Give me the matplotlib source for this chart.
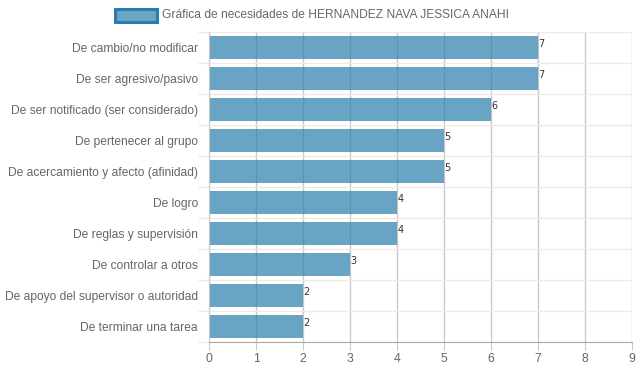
import matplotlib
matplotlib.use("Agg")
import matplotlib.pyplot as plt
from matplotlib.patches import Rectangle

categories = [
    "De cambio/no modificar",
    "De ser agresivo/pasivo",
    "De ser notificado (ser considerado)",
    "De pertenecer al grupo",
    "De acercamiento y afecto (afinidad)",
    "De logro",
    "De reglas y supervisión",
    "De controlar a otros",
    "De apoyo del supervisor o autoridad",
    "De terminar una tarea",
]
values = [7, 7, 6, 5, 5, 4, 4, 3, 2, 2]
series_label = "Gráfica de necesidades de HERNANDEZ NAVA JESSICA ANAHI"
xticks = list(range(0, 10))

plt.rcParams['font.family'] = ['Liberation Sans', 'DejaVu Sans']

W, H = 639, 372
fig = plt.figure(figsize=(W / 100, H / 100), dpi=100)
left, right, top, bottom = 209, 632, 32, 342
ax = fig.add_axes([left / W, 1 - bottom / H, (right - left) / W, (bottom - top) / H])

base = (42 / 255, 126 / 255, 171 / 255)
ypos = list(range(len(categories)))
ax.barh(ypos, values, height=0.72, color=base, alpha=0.7, zorder=2, linewidth=0)

ax.set_xlim(0, 9)
ax.set_ylim(len(categories) - 0.5, -0.5)
ax.set_xticks(xticks)
ax.set_yticks(ypos)
ax.set_yticklabels(categories)
ax.set_yticks([i + 0.5 for i in range(-1, len(categories))], minor=True)

ax.grid(axis='x', color='#c8c8c8', linewidth=1, zorder=1)
ax.grid(axis='y', which='minor', color='#ebebeb', linewidth=1, zorder=1)
ax.tick_params(axis='y', which='major', length=0, pad=8, labelsize=8.65, labelcolor='#666666')
ax.tick_params(axis='y', which='minor', length=8, color='#ebebeb', width=1)
ax.tick_params(axis='x', length=6, color='#c8c8c8', pad=2, labelsize=8.7, labelcolor='#666666')

for s in ['top', 'right']:
    ax.spines[s].set_visible(False)
ax.spines['left'].set_color('#c8c8c8')
ax.spines['bottom'].set_color('#aaaaaa')

for y, v in zip(ypos, values):
    ax.text(v + 0.01, y - 0.12, str(v), va='center', ha='left', fontsize=7,
            color='#333333', family=['DejaVu Sans'], zorder=3)

# legend
fig.patches.append(Rectangle((115 / W, 1 - 22 / H), 42 / W, 13 / H, transform=fig.transFigure,
                             facecolor=(106/255, 165/255, 196/255), edgecolor=base, linewidth=2.2))
fig.text(162 / W, 1 - 15 / H, series_label, ha='left', va='center', fontsize=8.62, color='#666666')

fig.savefig("out.png", dpi=100)
